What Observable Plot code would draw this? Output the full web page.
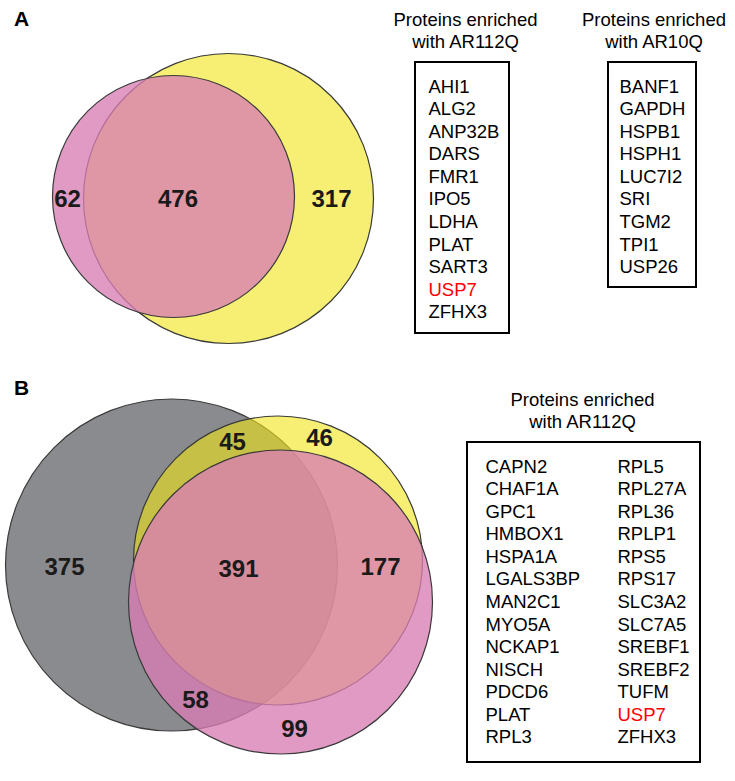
<!DOCTYPE html>
<html><head><meta charset="utf-8">
<script src="https://cdn.jsdelivr.net/npm/d3@7"></script>
<script src="https://cdn.jsdelivr.net/npm/@observablehq/plot@0.6"></script>
<style>html,body{margin:0;padding:0;background:#fff;} svg{display:block}</style>
</head><body><div id="chart"></div>
<script>
// ---------- data ----------
const panelLabels = ["A", "B"];
const countsA = [62, 476, 317];               // pink only, overlap, yellow only
const countsB = [375, 45, 46, 391, 177, 58, 99];
const headerLines = ["Proteins enriched", "with AR112Q", "with AR10Q"];
const listA112Q = ["AHI1","ALG2","ANP32B","DARS","FMR1","IPO5","LDHA","PLAT","SART3","USP7","ZFHX3"];
const listA10Q = ["BANF1","GAPDH","HSPB1","HSPH1","LUC7I2","SRI","TGM2","TPI1","USP26"];
const listB112Q_col1 = ["CAPN2","CHAF1A","GPC1","HMBOX1","HSPA1A","LGALS3BP","MAN2C1","MYO5A","NCKAP1","NISCH","PDCD6","PLAT","RPL3"];
const listB112Q_col2 = ["RPL5","RPL27A","RPL36","RPLP1","RPS5","RPS17","SLC3A2","SLC7A5","SREBF1","SREBF2","TUFM","USP7","ZFHX3"];
const highlighted = ["USP7"];

// ---------- layout (pixel geometry, kept apart from data) ----------
const circlesA = [
  {cx: 228, cy: 198, r: 145, fill: "#f0e416", op: 0.6},   // yellow
  {cx: 173, cy: 196, r: 121, fill: "#d97eb3", op: 0.78}   // pink
];
const circlesB = [
  {cx: 171, cy: 564.5, r: 166, fill: "#8a8b8e", op: 1},   // gray
  {cx: 277.5, cy: 560, r: 144.5, fill: "#f0e416", op: 0.6}, // yellow
  {cx: 280, cy: 601.5, r: 152, fill: "#d97eb3", op: 0.78}  // pink
];
const countPosA = [[67, 199], [177.5, 199], [331, 199]];
const countPosB = [[64, 567], [232, 442], [319, 437.5], [238, 568.5], [380, 567], [195, 699.5], [294, 729]];
const labelPos = [[21, 19], [21, 388]];
const lineStep = 22.55;

const C = (arr, pos) => arr.map((v, i) => ({x: pos[i][0], y: pos[i][1], t: String(v)}));
const list = (arr, x, y0) => arr.map((t, i) => ({x, y: y0 + i * lineStep, t, red: highlighted.includes(t)}));

const listItems = [
  ...list(listA112Q, 428, 86.3),
  ...list(listA10Q, 619, 86.3),
  ...list(listB112Q_col1, 485, 466.3),
  ...list(listB112Q_col2, 617, 466.3)
];
const headers = [
  {x: 465, y: 20, t: headerLines[0]}, {x: 465, y: 41.7, t: headerLines[1]},
  {x: 653.5, y: 20, t: headerLines[0]}, {x: 653.5, y: 41.7, t: headerLines[2]},
  {x: 582, y: 399.7, t: headerLines[0]}, {x: 582, y: 421.7, t: headerLines[1]}
];
const boxes = [
  {x1: 415, x2: 509, y1: 62, y2: 333},
  {x1: 608, x2: 696, y1: 62, y2: 287},
  {x1: 467, x2: 700, y1: 442, y2: 762}
];

const circleMark = c => Plot.dot([c], {x: "cx", y: "cy", r: "r", fill: c.fill, fillOpacity: c.op,
  stroke: "#3a3a3a", strokeWidth: 1.2});

const plot = Plot.plot({
  width: 735, height: 781, margin: 0,
  x: {domain: [0, 735], range: [0, 735], axis: null},
  y: {domain: [0, 781], range: [0, 781], axis: null},
  r: {type: "identity"},
  style: {fontFamily: "'Liberation Sans', Arial, sans-serif", background: "#fff"},
  marks: [
    ...circlesA.map(circleMark),
    ...circlesB.map(circleMark),
    Plot.text(C(countsA, countPosA), {x: "x", y: "y", text: "t", fontSize: 24, fontWeight: "bold", fill: "#1a1a1a"}),
    Plot.text(C(countsB, countPosB), {x: "x", y: "y", text: "t", fontSize: 24, fontWeight: "bold", fill: "#1a1a1a"}),
    Plot.text(C(panelLabels, labelPos), {x: "x", y: "y", text: "t", fontSize: 21, fontWeight: "bold", fill: "#000"}),
    Plot.rect(boxes, {x1: "x1", x2: "x2", y1: "y1", y2: "y2", fill: "none", stroke: "#000", strokeWidth: 2}),
    Plot.text(headers, {x: "x", y: "y", text: "t", fontSize: 18.5, fill: "#000"}),
    Plot.text(listItems.filter(d => !d.red), {x: "x", y: "y", text: "t", fontSize: 18.5, textAnchor: "start", fill: "#000"}),
    Plot.text(listItems.filter(d => d.red), {x: "x", y: "y", text: "t", fontSize: 18.5, textAnchor: "start", fill: "#ff0000"})
  ]
});
document.getElementById("chart").appendChild(plot);
</script>
</body></html>
